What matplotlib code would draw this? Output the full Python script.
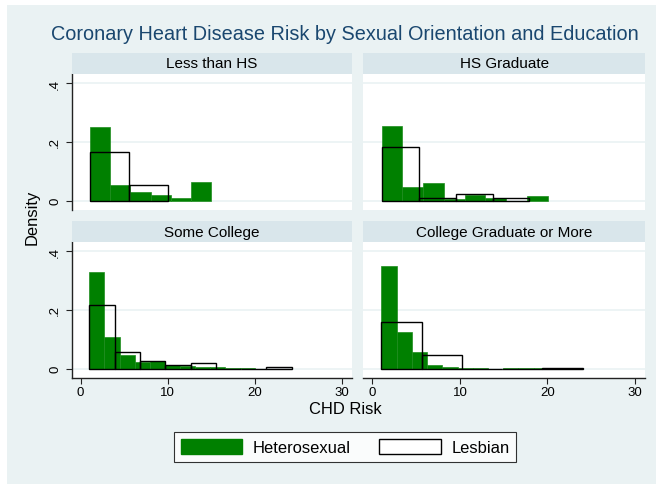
import matplotlib
matplotlib.use("Agg")
import matplotlib.pyplot as plt
from matplotlib.patches import Rectangle, Patch
import numpy as np

plt.rcParams['font.family'] = ['Liberation Sans', 'DejaVu Sans']

# ---- data ----
panel_titles = ["Less than HS", "HS Graduate", "Some College", "College Graduate or More"]

# Heterosexual histograms: first bin start, bin width, densities
het_start = [1.06, 1.06, 1.00, 1.03]
het_width = [2.32, 2.37, 1.73, 1.74]
het_lths = [0.251, 0.053, 0.031, 0.021, 0.010, 0.063]
het_hsgrad = [0.253, 0.048, 0.059, 0.006, 0.018, 0.009, 0.0, 0.016]
het_somecol = [0.329, 0.108, 0.048, 0.022, 0.027, 0.011, 0.010, 0.006, 0.007, 0.003, 0.003]
het_colgrad = [0.350, 0.125, 0.058, 0.011, 0.006, 0.002, 0.002, 0.0, 0.002, 0.002, 0.002]

# Lesbian histograms
les_start = [1.06, 1.06, 1.00, 1.03]
les_width = [4.45, 4.22, 2.90, 4.60]
les_lths = [0.164, 0.052]
les_hsgrad = [0.182, 0.009, 0.023, 0.008]
les_somecol = [0.216, 0.056, 0.025, 0.011, 0.018, 0.0, 0.0, 0.007]
les_colgrad = [0.159, 0.046, 0.0, 0.0, 0.004]

het_all = [het_lths, het_hsgrad, het_somecol, het_colgrad]
les_all = [les_lths, les_hsgrad, les_somecol, les_colgrad]

y_ticks = [0, 0.2, 0.4]
y_ticklabels = ["0", ".2", ".4"]
x_ticks = [0, 10, 20, 30]
x_ticklabels = ["0", "10", "20", "30"]

title = "Coronary Heart Disease Risk by Sexual Orientation and Education"
xlabel = "CHD Risk"
ylabel = "Density"
legend_labels = ["Heterosexual", "Lesbian"]

# ---- style ----
W, H = 656, 485
BG = "#EAF2F3"
STRIP = "#D9E6EB"
GREEN = "#008000"
TITLE_C = "#1A476F"

fig = plt.figure(figsize=(W / 100, H / 100), dpi=100)
fig.patch.set_facecolor("white")
fig.patches.append(Rectangle((7 / W, 0), 1, 1 - 6 / H, transform=fig.transFigure,
                             facecolor=BG, edgecolor="none", zorder=-10))

def fx(px):
    return px / W

def fy(py):
    return 1 - py / H

col_x = [(71.5, 352.3), (363.3, 645.0)]
row_plot = [(75.0, 211.0), (243.0, 379.0)]
row_strip = [(54.0, 74.5), (222.0, 243.0)]

for i in range(4):
    r, c = divmod(i, 2)
    x0, x1 = col_x[c]
    y0, y1 = row_plot[r]
    ax = fig.add_axes([fx(x0), fy(y1), fx(x1 - x0), (y1 - y0) / H])
    ax.set_facecolor("white")
    ax.set_xlim(-1.05, 31.15)
    ax.set_ylim(-0.0316, 0.431)
    for yv in y_ticks:
        ax.axhline(yv, color=BG, lw=1.2, zorder=0)

    h = het_all[i]
    lefts = [het_start[i] + k * het_width[i] for k in range(len(h))]
    ax.bar(lefts, h, width=het_width[i], align="edge", color=GREEN,
           edgecolor="#1E8C1E", linewidth=0.5, zorder=2)
    l = les_all[i]
    llefts = [les_start[i] + k * les_width[i] for k in range(len(l))]
    ax.bar(llefts, l, width=les_width[i], align="edge", facecolor="none",
           edgecolor="black", linewidth=1.0, zorder=3)

    for s in ["top", "right"]:
        ax.spines[s].set_visible(False)
    ax.spines["left"].set_visible(c == 0)
    ax.spines["bottom"].set_visible(r == 1)
    for s in ["left", "bottom"]:
        ax.spines[s].set_color("#222222")
        ax.spines[s].set_linewidth(1.0)

    if c == 0:
        ax.set_yticks(y_ticks)
        ax.set_yticklabels(y_ticklabels, rotation=90, va="center", fontsize=9.5)
        ax.tick_params(axis="y", length=4.5, width=0.8, pad=3, color="#222222")
    else:
        ax.set_yticks([])
    if r == 1:
        ax.set_xticks(x_ticks)
        ax.set_xticklabels(x_ticklabels, fontsize=9.5)
        ax.tick_params(axis="x", length=4, width=0.8, pad=2, color="#222222")
    else:
        ax.set_xticks([])

    sy0, sy1 = row_strip[r]
    sax = fig.add_axes([fx(x0), fy(sy1), fx(x1 - x0), (sy1 - sy0) / H])
    sax.set_facecolor(STRIP)
    sax.set_xticks([]); sax.set_yticks([])
    for s in sax.spines.values():
        s.set_visible(False)
    sax.text(0.5, 0.5, panel_titles[i], ha="center", va="center",
             fontsize=11, transform=sax.transAxes, color="black")

fig.text(fx(345), fy(35), title, ha="center", va="center", fontsize=14.3, color=TITLE_C)
fig.text(fx(32), fy(217), ylabel, ha="center", va="center", rotation=90, fontsize=11.9)
fig.text(fx(345), fy(410), xlabel, ha="center", va="center", fontsize=11.9)

handles = [Patch(facecolor=GREEN, edgecolor=GREEN),
           Patch(facecolor="white", edgecolor="black", linewidth=1.0)]
leg = fig.legend(handles, legend_labels, loc="center", bbox_to_anchor=(fx(345), fy(448)),
                 ncol=2, fontsize=11.9, frameon=True, fancybox=False,
                 handlelength=3.75, handleheight=1.05, handletextpad=0.6,
                 columnspacing=1.75, borderpad=0.4, borderaxespad=0)
leg.get_frame().set_edgecolor("black")
leg.get_frame().set_linewidth(0.8)
leg.get_frame().set_facecolor("white")

fig.savefig("out.png", dpi=100, facecolor=fig.get_facecolor())
